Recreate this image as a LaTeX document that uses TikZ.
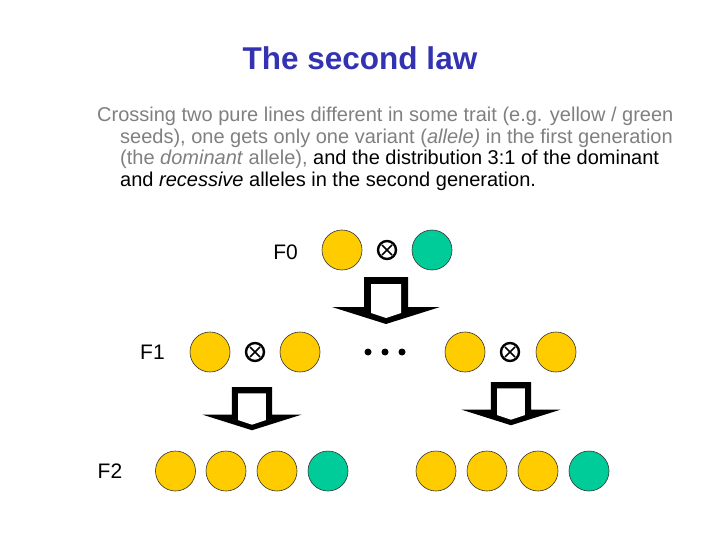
\documentclass[tikz,border=0pt]{standalone}
\usepackage{fontspec}
\setmainfont{Liberation Sans}
\definecolor{titleblue}{RGB}{51,51,178}
\definecolor{txtgray}{RGB}{128,128,128}
\definecolor{yel}{RGB}{255,204,0}
\definecolor{grn}{RGB}{0,204,153}
\tikzset{
  body/.style={anchor=base west, inner sep=0pt, font=\fontsize{20bp}{24bp}\selectfont},
  gen/.style={anchor=base, inner sep=0pt, font=\fontsize{21bp}{24bp}\selectfont},
  seed/.style={circle, minimum size=40bp, inner sep=0pt, draw=black!80, line width=0.6bp},
  yseed/.style={seed, fill=yel},
  gseed/.style={seed, fill=grn},
  cross/.style={circle, minimum size=18bp, inner sep=0pt, draw=black, line width=2.4bp,
    path picture={
      \draw[line width=1.7bp] ([shift={(-5,-5)}]path picture bounding box.center) -- ([shift={(5,5)}]path picture bounding box.center);
      \draw[line width=1.7bp] ([shift={(-5,5)}]path picture bounding box.center) -- ([shift={(5,-5)}]path picture bounding box.center);
    }},
  dotn/.style={circle, fill=black, minimum size=7bp, inner sep=0pt},
  barrow/.pic={
    \fill[black] (-22,0) -- (22,0) -- (22,30) -- (54,30) -- (0,47) -- (-54,30) -- (-22,30) -- cycle;
    \fill[white] (-15,7) -- (15,7) -- (15,36) -- (0,41) -- (-15,36) -- cycle;
  }
}
\begin{document}
\begin{tikzpicture}[x=1bp,y=-1bp]
\useasboundingbox[fill=white] (0,0) rectangle (720,540);

% title
\node[anchor=base, inner sep=0pt, font=\bfseries\fontsize{31.5bp}{34bp}\selectfont, text=titleblue] (title) at (360,70) {The second law};

% body text
\node[body, text=txtgray] (l1) at (97,122) {Crossing two pure lines different in some trait (e.g. yellow / green};
\node[body, text=txtgray] (l2) at (120,143.5) {seeds), one gets only one variant (\textit{allele)} in the first generation};
\node[body] (l3) at (120,165) {\textcolor{txtgray}{(the \textit{dominant} allele),} and the distribution 3:1 of the dominant};
\node[body] (l4) at (120,187) {and \textit{recessive} alleles in the second generation.};

% generation labels
\node[gen] (f0) at (285.5,260) {F0};
\node[gen] (f1) at (152.5,359) {F1};
\node[gen] (f2) at (110,478) {F2};

% F0
\node[yseed] (p1) at (342,250) {};
\node[cross] (x0) at (387,250) {};
\node[gseed] (p2) at (432,250) {};
\pic at (386,277) {barrow};

% F1
\node[yseed] (a1) at (210,352) {};
\node[cross] (xa) at (255,352) {};
\node[yseed] (a2) at (300,352) {};
\node[dotn] (d1) at (368,352) {};
\node[dotn] (d2) at (385,352) {};
\node[dotn] (d3) at (402,352) {};
\node[yseed] (b1) at (465,352) {};
\node[cross] (xb) at (510,352) {};
\node[yseed] (b2) at (556,352) {};
\pic[scale=0.92] at (252,387) {barrow};
\pic[scale=0.92] at (511,382) {barrow};

% F2
\node[yseed] (c1) at (175.5,471) {};
\node[yseed] (c2) at (226,471) {};
\node[yseed] (c3) at (277,471) {};
\node[gseed] (c4) at (328,471) {};
\node[yseed] (e1) at (436,471) {};
\node[yseed] (e2) at (487,471) {};
\node[yseed] (e3) at (538,471) {};
\node[gseed] (e4) at (589,471) {};
\end{tikzpicture}
\end{document}
